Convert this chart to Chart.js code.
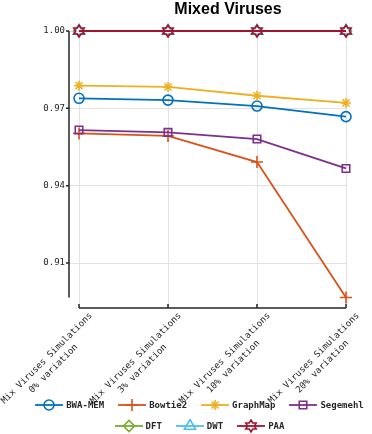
<!DOCTYPE html>
<html><head><meta charset="utf-8">
<script src="https://cdn.jsdelivr.net/npm/chart.js@4.4.0/dist/chart.umd.min.js"></script>
<style>
html,body{margin:0;padding:0;background:#fff;}
#wrap{position:relative;width:372px;height:434px;overflow:hidden;}
#c{position:absolute;left:0;top:0;}
#title{position:absolute;left:0;top:-1px;width:456px;text-align:center;font:bold 16px "Liberation Sans",Arial,sans-serif;line-height:20px;color:#000;}
.row{position:absolute;left:27px;width:345px;height:14px;display:flex;justify-content:center;align-items:center;}
.item{display:flex;align-items:center;margin:0 7px;font:bold 9px "DejaVu Sans Mono",monospace;color:#262626;white-space:pre;}
.item canvas{margin-right:3px;}
</style></head>
<body><div id="wrap">
<canvas id="c" width="372" height="434"></canvas>
<div id="title">Mixed Viruses</div>
<div class="row" id="row1" style="top:398px"></div>
<div class="row" id="row2" style="top:419px"></div>
</div>
<script>
const categoryName = "Mix Viruses Simulations";
const categoryVariation = ["0% variation", "3% variation", "10% variation", "20% variation"];
const seriesNames = ["BWA-MEM", "Bowtie2", "GraphMap", "Segemehl", "DFT", "DWT", "PAA"];
const bwaMem   = [0.9739, 0.9732, 0.9709, 0.9668];
const bowtie2  = [0.9603, 0.9593, 0.9492, 0.8967];
const graphMap = [0.9788, 0.9783, 0.9749, 0.9721];
const segemehl = [0.9616, 0.9607, 0.9581, 0.9467];
const dft      = [1.00, 1.00, 1.00, 1.00];
const dwt      = [1.00, 1.00, 1.00, 1.00];
const paa      = [1.00, 1.00, 1.00, 1.00];
const yTicks = [0.91, 0.94, 0.97, 1.00];

const colors = ["#0072BD", "#D95319", "#EDB120", "#7E2F8E", "#77AC30", "#4DBEEE", "#A2142F"];

function hexagram(r, color, lw) {
  const c = document.createElement('canvas');
  const s = Math.ceil(2 * r + lw + 2);
  c.width = s; c.height = s;
  const g = c.getContext('2d');
  g.strokeStyle = color; g.lineWidth = lw; g.lineJoin = 'miter';
  const cx = s / 2, cy = s / 2;
  g.beginPath();
  for (let k = 0; k < 12; k++) {
    const ang = -Math.PI / 2 + k * Math.PI / 6;
    const rr = k % 2 === 0 ? r : r / Math.sqrt(3);
    g.lineTo(cx + rr * Math.cos(ang), cy + rr * Math.sin(ang));
  }
  g.closePath(); g.stroke();
  return c;
}
const hexImg = hexagram(6, colors[6], 1.6);

const allSeries = [bwaMem, bowtie2, graphMap, segemehl, dft, dwt, paa];
const styles = ['circle', 'cross', 'star', 'rect', 'rectRot', 'triangle', hexImg];
const radii = [5, 6, 5, 5.3, 5.5, 6.5, 6];

const xLabels = categoryVariation.map(v => {
  const pad = Math.round((categoryName.length - v.length) / 2);
  return [categoryName, v + " ".repeat(pad)];
});

const datasets = allSeries.map((vals, i) => ({
  label: seriesNames[i],
  data: vals.map((v, k) => ({x: k, y: v})),
  borderColor: colors[i],
  backgroundColor: 'rgba(0,0,0,0)',
  pointBorderColor: colors[i],
  pointBackgroundColor: 'rgba(0,0,0,0)',
  pointStyle: styles[i],
  pointRadius: radii[i],
  pointBorderWidth: 1.6,
  borderWidth: 1.8,
  tension: 0,
  clip: false,
  order: 7 - i
}));

const allVals = allSeries.flat();
const yLineEnd = Math.min(...allVals);

const axesPlugin = {
  id: 'axesLines',
  beforeDatasetsDraw(chart) {
    const {ctx, chartArea, scales} = chart;
    const xs = scales.x, ys = scales.y;
    ctx.save();
    ctx.strokeStyle = '#262626';
    ctx.lineWidth = 1.5;
    ctx.beginPath();
    ctx.moveTo(chartArea.left, ys.getPixelForValue(Math.max(...yTicks)));
    ctx.lineTo(chartArea.left, ys.getPixelForValue(yLineEnd));
    yTicks.forEach(t => {
      const p = ys.getPixelForValue(t);
      ctx.moveTo(chartArea.left - 3, p);
      ctx.lineTo(chartArea.left, p);
    });
    const b = chartArea.bottom;
    ctx.moveTo(xs.getPixelForValue(0), b);
    ctx.lineTo(xs.getPixelForValue(xLabels.length - 1), b);
    xLabels.forEach((l, i) => {
      const p = xs.getPixelForValue(i);
      ctx.moveTo(p, b);
      ctx.lineTo(p, b - 4);
    });
    ctx.stroke();
    ctx.restore();
  }
};

new Chart(document.getElementById('c'), {
  type: 'line',
  data: {datasets},
  plugins: [axesPlugin],
  options: {
    responsive: false,
    animation: false,
    devicePixelRatio: 1,
    layout: {padding: {top: 31, right: 26, left: 0, bottom: 0}},
    plugins: {legend: {display: false}, tooltip: {enabled: false}, title: {display: false}},
    scales: {
      x: {
        type: 'linear',
        min: -0.1124,
        max: 3,
        afterBuildTicks(s) { s.ticks = xLabels.map((l, i) => ({value: i})); },
        afterFit(s) { s.height = 126; s.paddingLeft = 0; s.paddingRight = 0; },
        grid: {color: '#e2e2e2', lineWidth: 1, drawTicks: false},
        border: {display: false},
        ticks: {
          autoSkip: false,
          maxRotation: 45, minRotation: 45,
          labelOffset: 12,
          padding: 2,
          color: '#262626',
          font: {family: '"DejaVu Sans Mono", monospace', size: 9, lineHeight: 1.33},
          callback: (v) => xLabels[Math.round(v)]
        }
      },
      y: {
        min: 0.8926,
        max: 1.0,
        afterBuildTicks(s) { s.ticks = yTicks.map(v => ({value: v})); },
        afterFit(s) { s.width = 69; },
        grid: {color: '#e2e2e2', lineWidth: 1, drawTicks: false},
        border: {display: false},
        ticks: {
          padding: 4,
          color: '#262626',
          font: {family: '"DejaVu Sans Mono", monospace', size: 9},
          callback: (v) => Number(v).toFixed(2)
        }
      }
    }
  }
});

// legend
function drawMarker(g, style, r, x, y, color) {
  g.strokeStyle = color; g.fillStyle = 'rgba(0,0,0,0)'; g.lineWidth = 1.6;
  if (typeof style !== 'string') { g.drawImage(style, x - style.width / 2, y - style.height / 2); return; }
  Chart.helpers.drawPoint(g, {pointStyle: style, radius: r, borderWidth: 1.6}, x, y);
}
seriesNames.forEach((name, i) => {
  const item = document.createElement('div');
  item.className = 'item';
  const cv = document.createElement('canvas');
  cv.width = 28; cv.height = 14;
  const g = cv.getContext('2d');
  g.strokeStyle = colors[i]; g.lineWidth = 1.8;
  g.beginPath(); g.moveTo(0, 7); g.lineTo(28, 7); g.stroke();
  drawMarker(g, styles[i], radii[i], 14, 7, colors[i]);
  item.appendChild(cv);
  const sp = document.createElement('span');
  sp.textContent = name;
  item.appendChild(sp);
  document.getElementById(i < 4 ? 'row1' : 'row2').appendChild(item);
});
</script>
</body></html>
